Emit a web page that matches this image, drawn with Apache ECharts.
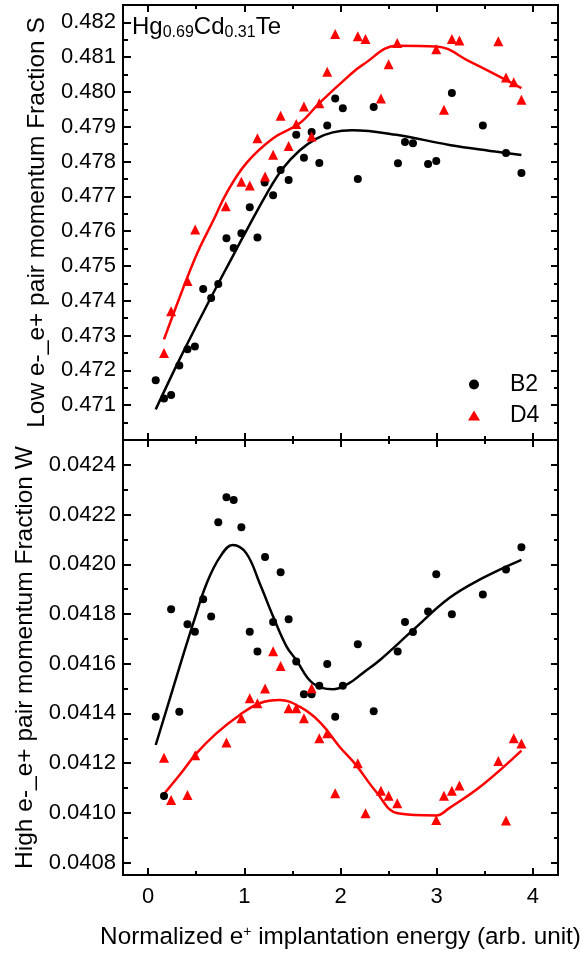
<!DOCTYPE html>
<html>
<head>
<meta charset="utf-8">
<script src="https://cdn.jsdelivr.net/npm/echarts@6/dist/echarts.min.js"></script>
<style>
html,body{margin:0;padding:0;background:#fff;}
#container{width:584px;height:957px;}
</style>
</head>
<body>
<div id="container"></div>
<script>
// tick values
var xTicks = [0, 1, 2, 3, 4];
var xMinorTicks = [0.5, 1.5, 2.5, 3.5];
var sTicks = [0.471, 0.472, 0.473, 0.474, 0.475, 0.476, 0.477, 0.478, 0.479, 0.480, 0.481, 0.482];
var sMinorTicks = [0.4705, 0.4715, 0.4725, 0.4735, 0.4745, 0.4755, 0.4765, 0.4775, 0.4785, 0.4795, 0.4805, 0.4815];
var wTicks = [0.0408, 0.0410, 0.0412, 0.0414, 0.0416, 0.0418, 0.0420, 0.0422, 0.0424];
var wMinorTicks = [0.0409, 0.0411, 0.0413, 0.0415, 0.0417, 0.0419, 0.0421, 0.0423];

// S parameter, B2
var sB2X = [0.08,0.166,0.24,0.325,0.41,0.487,0.573,0.656,0.73,0.815,0.89,0.97,1.057,1.137,1.212,1.30,1.378,1.461,1.54,1.62,1.70,1.78,1.862,1.945,2.024,2.18,2.345,2.597,2.67,2.753,2.91,2.995,3.157,3.479,3.72,3.88];
var sB2Y = [0.47172,0.47119,0.47129,0.47214,0.47261,0.47269,0.47434,0.47408,0.47448,0.47580,0.47552,0.47594,0.47669,0.47582,0.47740,0.47703,0.47776,0.47747,0.47877,0.47811,0.47885,0.47796,0.47904,0.47981,0.47953,0.47750,0.47957,0.47795,0.47856,0.47853,0.47793,0.47802,0.47997,0.47904,0.47825,0.47767];
// S parameter, D4
var sD4X = [0.166,0.24,0.41,0.49,0.808,0.97,1.057,1.137,1.216,1.30,1.378,1.461,1.54,1.62,1.70,1.78,1.862,1.945,2.18,2.26,2.42,2.50,2.59,2.995,3.075,3.157,3.236,3.64,3.72,3.80,3.88];
var sD4Y = [0.47250,0.47370,0.47457,0.47605,0.47672,0.47742,0.47731,0.47867,0.47757,0.47820,0.47932,0.47845,0.47908,0.47958,0.47872,0.47968,0.48058,0.48167,0.48160,0.48152,0.47981,0.48080,0.48141,0.48123,0.47949,0.48152,0.48148,0.48146,0.48042,0.48028,0.47978];
// S fit curves
var sB2FitX = [0.08,0.33,0.64,0.884,1.0,1.23,1.40,1.575,1.75,1.92,2.12,2.58,3.13,3.61,3.88];
var sB2FitY = [0.47088,0.47233,0.47402,0.47530,0.47590,0.47706,0.47780,0.47832,0.47866,0.47884,0.47890,0.47877,0.47848,0.47829,0.47819];
var sD4FitX = [0.166,0.33,0.51,0.68,0.815,1.02,1.30,1.575,1.78,2.09,2.23,2.59,2.995,3.34,3.88];
var sD4FitY = [0.47289,0.47411,0.47536,0.47632,0.47709,0.47795,0.47867,0.47910,0.47968,0.48047,0.48078,0.48133,0.48131,0.48088,0.48011];

// W parameter, B2
var wB2X = [0.08,0.166,0.24,0.325,0.41,0.487,0.573,0.656,0.73,0.815,0.89,0.97,1.057,1.137,1.216,1.30,1.378,1.461,1.54,1.62,1.70,1.78,1.862,1.945,2.024,2.18,2.345,2.594,2.67,2.753,2.91,2.995,3.157,3.479,3.72,3.88];
var wB2Y = [0.041387,0.041068,0.041819,0.041407,0.041759,0.041729,0.041859,0.041790,0.042169,0.042270,0.042259,0.042149,0.041729,0.041649,0.042029,0.041768,0.041968,0.041779,0.041609,0.041477,0.041477,0.041511,0.041599,0.041387,0.041511,0.041678,0.041409,0.041649,0.041768,0.041728,0.041810,0.041960,0.041799,0.041878,0.041979,0.042069];
// W parameter, D4
var wD4X = [0.166,0.24,0.41,0.49,0.815,0.97,1.057,1.137,1.216,1.30,1.378,1.461,1.54,1.62,1.70,1.78,1.862,1.945,2.18,2.26,2.42,2.50,2.59,2.995,3.075,3.157,3.236,3.64,3.72,3.80,3.88];
var wD4Y = [0.041222,0.041052,0.041072,0.041232,0.041283,0.041381,0.041461,0.041441,0.041500,0.041650,0.041591,0.041421,0.041421,0.041381,0.041501,0.041300,0.041320,0.041079,0.041200,0.040998,0.041089,0.041069,0.041039,0.040971,0.041069,0.041089,0.041110,0.041209,0.040969,0.041300,0.041279];
// W fit curves
var wB2FitX = [0.08,0.35,0.47,0.61,0.75,0.88,1.02,1.16,1.30,1.44,1.54,1.71,1.92,2.09,2.23,2.41,2.755,3.13,3.475,3.88];
var wB2FitY = [0.041273,0.041615,0.041763,0.041924,0.042031,0.042078,0.042045,0.041924,0.041790,0.041669,0.041615,0.041522,0.041497,0.041522,0.041562,0.041615,0.041736,0.041864,0.041944,0.042018];
var wD4FitX = [0.166,0.33,0.505,0.71,0.953,1.16,1.368,1.575,1.78,1.99,2.16,2.37,2.594,2.995,3.13,3.475,3.88];
var wD4FitY = [0.041076,0.041153,0.041240,0.041320,0.041394,0.041441,0.041454,0.041427,0.041367,0.041266,0.041193,0.041085,0.040998,0.040989,0.041019,0.041112,0.041250];

var FONT = '"Liberation Sans", Arial, sans-serif';
var X_MIN = -0.26, X_MAX = 4.26;
var S_MIN = 0.470, S_MAX = 0.4825;
var W_MIN = 0.04075, W_MAX = 0.0425;

function zip(xs, ys) {
	var out = [];
	for (var i = 0; i < xs.length; i++) out.push([xs[i], ys[i]]);
	return out;
}

function axis(gridIndex, position, min, max, ticks, len) {
	return {
		type: 'value',
		gridIndex: gridIndex,
		position: position,
		min: min,
		max: max,
		splitLine: {show: false},
		axisLine: {show: true, onZero: false, lineStyle: {color: '#000', width: 2}},
		axisTick: {show: true, inside: true, length: len, customValues: ticks, lineStyle: {color: '#000', width: 2}},
		axisLabel: {show: false}
	};
}

function withLabels(ax, ticks, digits, margin) {
	ax.axisLabel = {
		show: true,
		customValues: ticks,
		color: '#000',
		fontSize: 22,
		fontFamily: FONT,
		margin: margin,
		formatter: function (v) { return digits == null ? String(Math.round(v)) : v.toFixed(digits); }
	};
	return ax;
}

var dom = document.getElementById('container');
var myChart = echarts.init(dom);

var gridTop = {left: 123, top: 5, width: 435, height: 435};
var gridBottom = {left: 123, top: 440, width: 435, height: 435};

// x axes: 0,1 top panel major; 2,3 top panel minor; 4,5 bottom panel major; 6,7 bottom panel minor
var xAxes = [
	axis(0, 'bottom', X_MIN, X_MAX, xTicks, 7),
	axis(0, 'top', X_MIN, X_MAX, xTicks, 7),
	axis(1, 'bottom', X_MIN, X_MAX, xMinorTicks, 4),
	axis(1, 'top', X_MIN, X_MAX, xMinorTicks, 4),
	withLabels(axis(2, 'bottom', X_MIN, X_MAX, xTicks, 7), xTicks, null, 11),
	axis(2, 'top', X_MIN, X_MAX, xTicks, 7),
	axis(3, 'bottom', X_MIN, X_MAX, xMinorTicks, 4),
	axis(3, 'top', X_MIN, X_MAX, xMinorTicks, 4)
];
xAxes[4].name = 'Normalized e{sup|+} implantation energy (arb. unit)';
xAxes[4].nameLocation = 'middle';
xAxes[4].nameGap = 50;
xAxes[4].nameTextStyle = {color: '#000', fontSize: 24.3, fontFamily: FONT, rich: {sup: {fontSize: 14, fontFamily: FONT, padding: [0, 0, 11, 0]}}};

var yAxes = [
	withLabels(axis(0, 'left', S_MIN, S_MAX, sTicks, 8), sTicks, 3, 7),
	axis(0, 'right', S_MIN, S_MAX, sTicks, 7),
	axis(1, 'left', S_MIN, S_MAX, sMinorTicks, 5),
	axis(1, 'right', S_MIN, S_MAX, sMinorTicks, 4),
	withLabels(axis(2, 'left', W_MIN, W_MAX, wTicks, 8), wTicks, 4, 7),
	axis(2, 'right', W_MIN, W_MAX, wTicks, 7),
	axis(3, 'left', W_MIN, W_MAX, wMinorTicks, 5),
	axis(3, 'right', W_MIN, W_MAX, wMinorTicks, 4)
];
yAxes[0].name = 'Low e-_e+ pair momentum Fraction S';
yAxes[4].name = 'High e-_e+ pair momentum Fraction W';
[0, 4].forEach(function (i) {
	yAxes[i].nameLocation = 'middle';
	yAxes[i].nameGap = 72;
	yAxes[i].nameTextStyle = {color: '#000', fontSize: 24.5, fontFamily: FONT};
});

function scatter(name, symbol, size, color, data, xi, yi) {
	return {
		name: name, type: 'scatter', xAxisIndex: xi, yAxisIndex: yi,
		symbol: symbol, symbolSize: size, itemStyle: {color: color, opacity: 1},
		data: data, z: 3
	};
}
function fit(name, color, data, xi, yi) {
	return {
		name: name, type: 'line', xAxisIndex: xi, yAxisIndex: yi,
		smooth: 0.4, showSymbol: false, symbol: 'none',
		lineStyle: {color: color, width: 2.5},
		data: data, z: 2
	};
}

option = {
	animation: false,
	backgroundColor: '#fff',
	title: {
		text: '{a|Hg}{b|0.69}{a|Cd}{b|0.31}{a|Te}',
		left: 132,
		top: 13,
		padding: 0,
		textStyle: {
			rich: {
				a: {fontSize: 24, fontWeight: 'normal', fontFamily: FONT, color: '#000'},
				b: {fontSize: 16, fontWeight: 'normal', fontFamily: FONT, color: '#000', padding: [12, 0, 0, 0]}
			}
		}
	},
	legend: {
		data: ['B2', 'D4'],
		orient: 'vertical',
		left: 468,
		top: 373,
		itemWidth: 12,
		itemHeight: 10,
		itemGap: 8,
		padding: 0,
		textStyle: {fontSize: 23, fontFamily: FONT, color: '#000', lineHeight: 21, padding: [0, 0, 0, 25]}
	},
	grid: [gridTop, gridTop, gridBottom, gridBottom],
	xAxis: xAxes,
	yAxis: yAxes,
	series: [
		fit('B2 fit S', '#000', zip(sB2FitX, sB2FitY), 0, 0),
		fit('D4 fit S', '#ff0000', zip(sD4FitX, sD4FitY), 0, 0),
		scatter('B2', 'circle', 8, '#000', zip(sB2X, sB2Y), 0, 0),
		scatter('D4', 'triangle', 10, '#ff0000', zip(sD4X, sD4Y), 0, 0),
		fit('B2 fit W', '#000', zip(wB2FitX, wB2FitY), 4, 4),
		fit('D4 fit W', '#ff0000', zip(wD4FitX, wD4FitY), 4, 4),
		scatter('B2', 'circle', 8, '#000', zip(wB2X, wB2Y), 4, 4),
		scatter('D4', 'triangle', 10, '#ff0000', zip(wD4X, wD4Y), 4, 4)
	]
};
if (option && typeof option === "object") {
	myChart.setOption(option, true);
}
</script>
</body>
</html>
